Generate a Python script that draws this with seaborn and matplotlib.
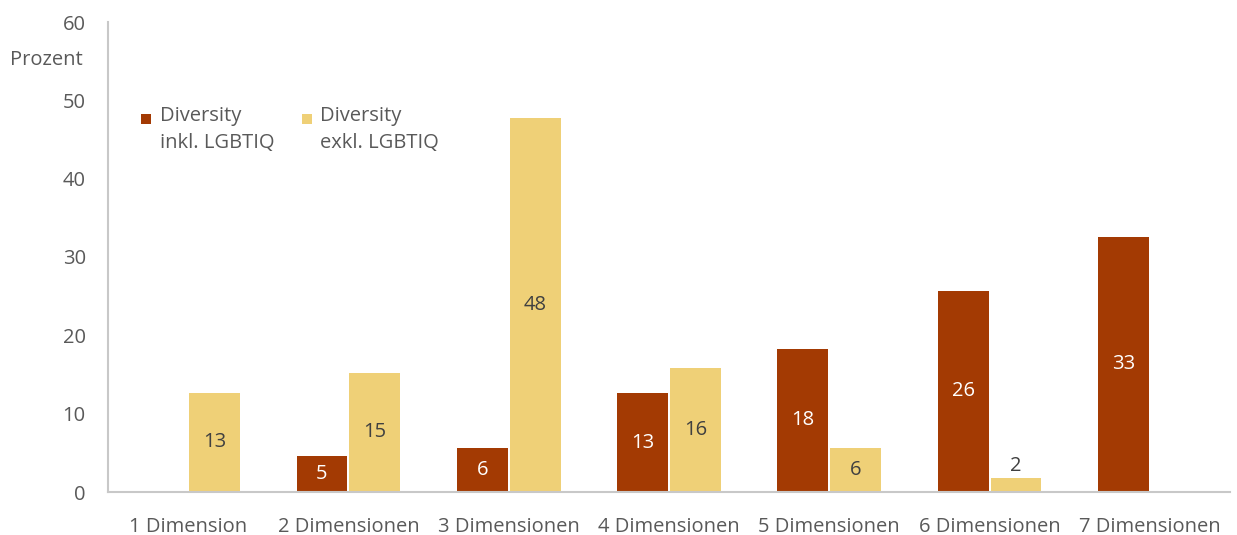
import numpy as np
import pandas as pd
import matplotlib
matplotlib.use("Agg")
import matplotlib.pyplot as plt
from matplotlib.patches import Rectangle
import seaborn as sns

# Share of companies by number of diversity dimensions covered (percent)
categories = ["1 Dimension", "2 Dimensionen", "3 Dimensionen", "4 Dimensionen",
              "5 Dimensionen", "6 Dimensionen", "7 Dimensionen"]
series_names = ["Diversity\ninkl. LGBTIQ", "Diversity\nexkl. LGBTIQ"]
inkl_values = [np.nan, 4.6, 5.6, 12.6, 18.3, 25.7, 32.6]
exkl_values = [12.7, 15.2, 47.8, 15.8, 5.6, 1.8, np.nan]
y_ticks = [0, 10, 20, 30, 40, 50, 60]

colors = ["#A33A03", "#EFD077"]
text_color = "#595959"
axis_color = "#C8C8C8"
FS = 14.5

df = pd.DataFrame({
    "Kategorie": categories * 2,
    "Serie": [series_names[0]] * len(categories) + [series_names[1]] * len(categories),
    "Wert": inkl_values + exkl_values,
})

sns.set_theme(style="white")
plt.rcParams["font.family"] = ["Open Sans", "DejaVu Sans"]

W, H = 1237, 535
fig = plt.figure(figsize=(W / 100, H / 100), dpi=100)
ax = fig.add_axes([108 / W, 1 - 492 / H, (1230 - 108) / W, (492 - 22) / H])

sns.barplot(data=df, x="Kategorie", y="Wert", hue="Serie", order=categories,
            hue_order=series_names, palette=colors, width=0.66, gap=0.04,
            saturation=1, ax=ax, legend=False, edgecolor="none")

# Value labels, matched to each bar through its category position
label_colors = ["white", "#404040"]
for cont, vals, lc in zip(ax.containers, [inkl_values, exkl_values], label_colors):
    for patch in cont.patches:
        cx = patch.get_x() + patch.get_width() / 2
        idx = int(round(cx))
        v = vals[idx]
        if np.isnan(v):
            continue
        if v < 4:
            ax.text(cx, v + 0.3, f"{v:.0f}", ha="center", va="bottom",
                    color="#404040", fontsize=FS)
        else:
            ax.text(cx, v / 2, f"{v:.0f}", ha="center", va="center",
                    color=lc, fontsize=FS)

ax.set_ylim(0, 60)
ax.set_xlim(-0.5, len(categories) - 0.5)
ax.set_yticks(y_ticks)
ax.set_yticklabels([str(t) for t in y_ticks], color=text_color, fontsize=FS)
ax.set_xlabel("")
ax.set_ylabel("")

# Category boundary ticks on the x axis, labels in the middle
ax.set_xticks(np.arange(-0.5, len(categories), 1.0), minor=False)
ax.set_xticklabels([])
ax.set_xticks(np.arange(len(categories)), minor=True)
ax.set_xticklabels(categories, minor=True, color=text_color, fontsize=FS)
ax.tick_params(axis="x", which="major", direction="inout", length=14,
               width=1.5, color=axis_color)
ax.tick_params(axis="x", which="minor", length=0, pad=18)
ax.tick_params(axis="y", direction="inout", length=16, width=1.5,
               color=axis_color, pad=8)

for s in ["top", "right"]:
    ax.spines[s].set_visible(False)
for s in ["left", "bottom"]:
    ax.spines[s].set_color(axis_color)
    ax.spines[s].set_linewidth(1.5)

fig.text(10 / W, 1 - 60 / H, "Prozent", ha="left", va="center",
         color=text_color, fontsize=FS)

# Legend: square marker next to the first line of a two-line label
legend_x = [(141, 160), (302, 320)]
for (mx, tx), name, c in zip(legend_x, series_names, colors):
    fig.patches.append(Rectangle((mx / W, 1 - 124 / H), 10 / W, 10 / H,
                                 transform=fig.transFigure, facecolor=c,
                                 edgecolor="none"))
    fig.text(tx / W, 1 - 106 / H, name, ha="left", va="top", color=text_color,
             fontsize=FS, linespacing=1.45)

fig.savefig("out.png", dpi=100)
